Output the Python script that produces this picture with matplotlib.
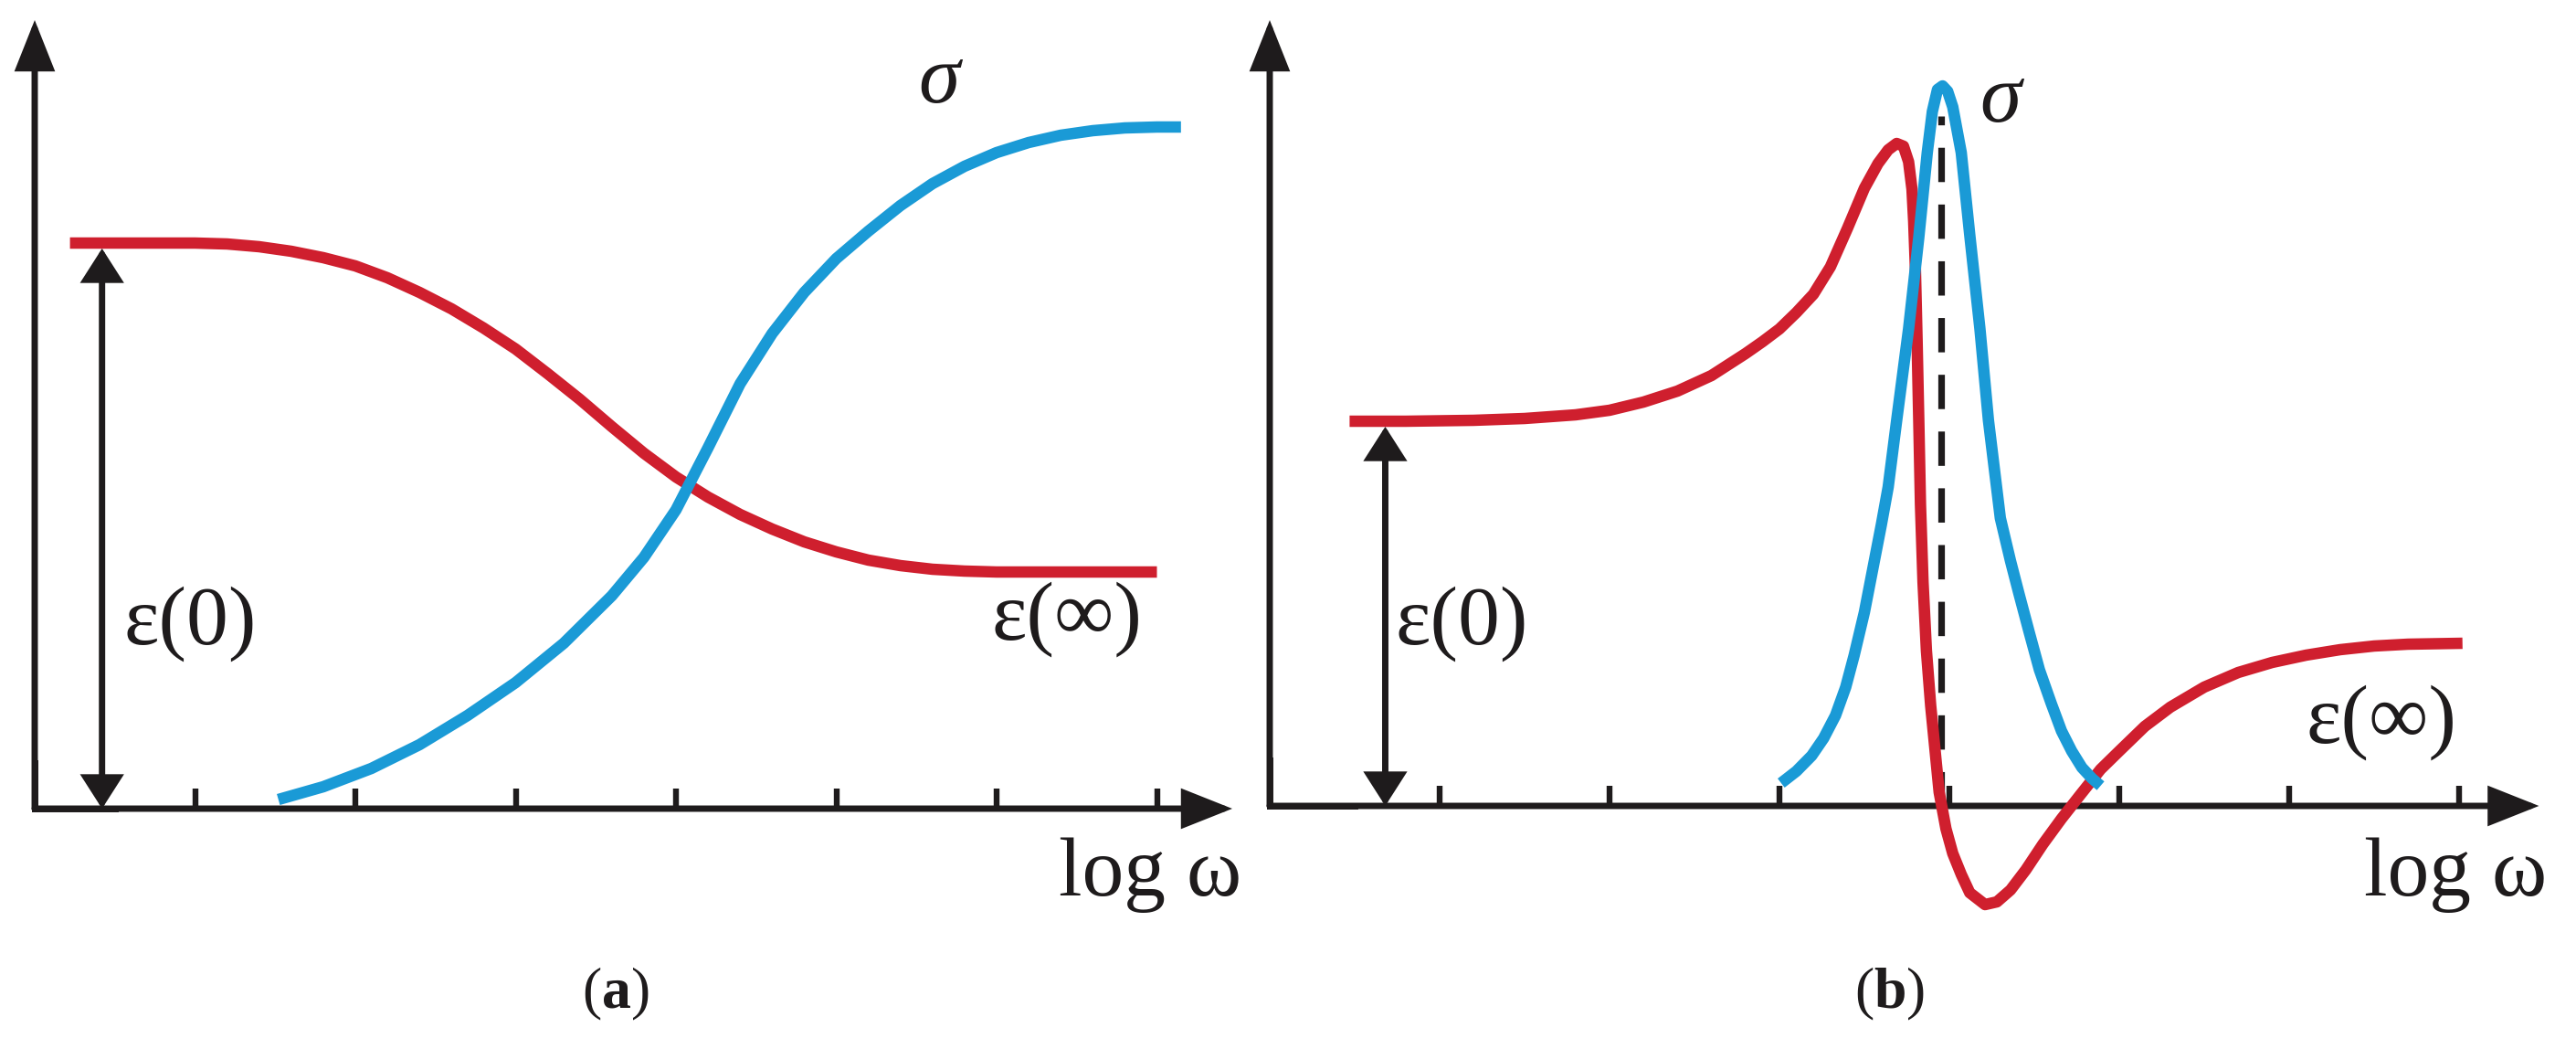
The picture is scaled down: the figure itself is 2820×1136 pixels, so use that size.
import matplotlib
matplotlib.use("Agg")
import matplotlib.pyplot as plt

plt.rcParams['font.family'] = ['Liberation Serif', 'DejaVu Serif']
plt.rcParams['mathtext.fontset'] = 'custom'
plt.rcParams['mathtext.rm'] = 'Liberation Serif'
plt.rcParams['mathtext.bf'] = 'Liberation Serif:bold'

# ---------------- data ----------------
# panel (a): Debye-like relaxation, x in tick units along log(omega)
a_eps_x = [0.22, 0.6, 1.0, 1.2, 1.4, 1.6, 1.8, 2.0, 2.2, 2.4, 2.6, 2.8, 3.0, 3.2, 3.4,
           3.6, 3.8, 4.0, 4.2, 4.4, 4.6, 4.8, 5.0, 5.2, 5.4, 5.6, 5.8, 6.0, 6.4, 7.0]
a_eps_y = [6.19, 6.19, 6.19, 6.18, 6.15, 6.10, 6.03, 5.94, 5.81, 5.65, 5.47, 5.26, 5.03, 4.76, 4.48,
           4.18, 3.89, 3.63, 3.41, 3.22, 3.06, 2.92, 2.81, 2.72, 2.66, 2.62, 2.60, 2.59, 2.59, 2.59]
a_sig_x = [1.52, 1.8, 2.1, 2.4, 2.7, 3.0, 3.3, 3.6, 3.8, 4.0, 4.2, 4.4, 4.6, 4.8, 5.0,
           5.2, 5.4, 5.6, 5.8, 6.0, 6.2, 6.4, 6.6, 6.8, 7.0, 7.15]
a_sig_y = [0.10, 0.24, 0.44, 0.70, 1.02, 1.38, 1.81, 2.33, 2.75, 3.27, 3.95, 4.65, 5.20, 5.65, 6.02,
           6.32, 6.60, 6.84, 7.03, 7.18, 7.29, 7.37, 7.42, 7.45, 7.46, 7.46]

# panel (b): resonance (Lorentz-like)
b_eps_x = [0.47, 0.8, 1.2, 1.5, 1.8, 2.0, 2.2, 2.4, 2.6, 2.8, 2.9, 3.0, 3.1, 3.2, 3.3,
           3.4, 3.5, 3.58, 3.64, 3.69, 3.73, 3.76, 3.78, 3.79, 3.80, 3.81, 3.82, 3.83,
           3.845, 3.865, 3.89, 3.94, 3.98, 4.02, 4.07, 4.12, 4.21, 4.28, 4.36, 4.45, 4.55,
           4.66, 4.77, 4.89, 5.0, 5.15, 5.3, 5.5, 5.7, 5.9, 6.1, 6.3, 6.5, 6.7, 7.02]
b_eps_y = [4.21, 4.21, 4.22, 4.24, 4.28, 4.33, 4.42, 4.54, 4.71, 4.95, 5.08, 5.22, 5.40, 5.60, 5.90,
           6.32, 6.76, 7.03, 7.18, 7.25, 7.22, 7.05, 6.75, 6.40, 5.89, 5.10, 4.22, 3.30,
           2.45, 1.70, 1.10, 0.15, -0.25, -0.52, -0.75, -0.95, -1.08, -1.05, -0.92, -0.70, -0.42,
           -0.14, 0.12, 0.40, 0.60, 0.87, 1.08, 1.30, 1.46, 1.57, 1.65, 1.71, 1.75, 1.77, 1.78]
b_sig_x = [3.01, 3.10, 3.19, 3.26, 3.33, 3.39, 3.44, 3.50, 3.55, 3.60, 3.64, 3.69, 3.76,
           3.82, 3.87, 3.90, 3.93, 3.96, 3.99, 4.02, 4.07, 4.12, 4.18, 4.23, 4.30, 4.36,
           4.41, 4.47, 4.53, 4.60, 4.66, 4.72, 4.78, 4.84, 4.89]
b_sig_y = [0.25, 0.38, 0.55, 0.74, 0.99, 1.30, 1.65, 2.12, 2.60, 3.08, 3.49, 4.22, 5.22,
           6.22, 7.15, 7.60, 7.84, 7.88, 7.82, 7.65, 7.15, 6.25, 5.22, 4.22, 3.15, 2.68,
           2.32, 1.90, 1.49, 1.12, 0.82, 0.60, 0.42, 0.30, 0.22]
b_peak_x = 3.95
b_peak_top = 7.55

tick_positions = [1, 2, 3, 4, 5, 6, 7]
a_eps0_level = 6.19
b_eps0_level = 4.21

RED = '#cf1f2e'
BLUE = '#1a9ad6'
INK = '#1e1b1c'

W, H = 2820, 1136
fig = plt.figure(figsize=(W / 100, H / 100), dpi=100)
fig.patch.set_facecolor('white')


def make_axes(left_px, width_px, x0_px, unit_px, y0_px):
    ax = fig.add_axes([left_px / W, 0, width_px / W, 1])
    ax.set_xlim((left_px - x0_px) / unit_px, (left_px + width_px - x0_px) / unit_px)
    ax.set_ylim((y0_px - H) / 100.0, y0_px / 100.0)
    ax.axis('off')
    ax.patch.set_alpha(0)
    return ax


def draw_frame(ax, xtip, ytip):
    lw = 5.0
    ax.plot([0, 0.5], [0, 0], color=INK, lw=lw, solid_capstyle='projecting', zorder=3)
    ax.plot([0, 0], [0, 0.5], color=INK, lw=lw, solid_capstyle='projecting', zorder=3)
    style = "-|>,head_length=0.78,head_width=0.31"
    for tip in [(xtip, 0), (0, ytip)]:
        ax.annotate('', xy=tip, xytext=(0, 0),
                    arrowprops=dict(arrowstyle=style, color=INK, lw=lw, shrinkA=0, shrinkB=0,
                                    mutation_scale=40, joinstyle='miter'), zorder=3)
    ax.vlines(tick_positions, 0, 0.22, color=INK, lw=4.6, zorder=3)


def double_arrow(ax, x, top):
    ax.annotate('', xy=(x, top), xytext=(x, 0.0),
                arrowprops=dict(arrowstyle="<|-|>,head_length=0.5,head_width=0.32",
                                color=INK, lw=5.0, shrinkA=0, shrinkB=0,
                                mutation_scale=40, joinstyle='miter'), zorder=4)


FS = 66
CW = 9.0
# ---------------- panel (a) ----------------
axa = make_axes(0, 1370, 38, 175.5, 885)
draw_frame(axa, 7.47, 8.63)
axa.plot(a_eps_x, a_eps_y, color=RED, lw=CW, solid_capstyle='butt', solid_joinstyle='round', zorder=5)
axa.plot(a_sig_x, a_sig_y, color=BLUE, lw=CW, solid_capstyle='butt', solid_joinstyle='round', zorder=6)
double_arrow(axa, 0.42, a_eps0_level - 0.06)
axa.text(0.97, 2.02, 'ε(0)', fontsize=FS, ha='center', va='center', color=INK)
axa.text(5.64, 7.95, 'σ', fontsize=FS, ha='center', va='center', color=INK, style='italic')
axa.text(6.44, 2.07, 'ε(∞)', fontsize=FS, ha='center', va='center', color=INK)
axa.text(7.53, -0.95, 'log ω', fontsize=FS, ha='right', va='baseline', color=INK)
axa.text(3.62, -2.03, r'($\mathbf{a}$)', fontsize=46, ha='center', va='center', color=INK)

# ---------------- panel (b) ----------------
axb = make_axes(1370, 1450, 1390, 186.0, 882)
draw_frame(axb, 7.47, 8.60)
axb.plot([b_peak_x, b_peak_x], [0, b_peak_top], color=INK, lw=5.2,
         dashes=(5.2, 3.4), zorder=4)
axb.plot(b_eps_x, b_eps_y, color=RED, lw=CW, solid_capstyle='butt', solid_joinstyle='round', zorder=5)
axb.plot(b_sig_x, b_sig_y, color=BLUE, lw=CW, solid_capstyle='butt', solid_joinstyle='round', zorder=6)
double_arrow(axb, 0.68, b_eps0_level - 0.06)
axb.text(1.13, 1.99, 'ε(0)', fontsize=FS, ha='center', va='center', color=INK)
axb.text(4.30, 7.71, 'σ', fontsize=FS, ha='center', va='center', color=INK, style='italic')
axb.text(6.54, 0.91, 'ε(∞)', fontsize=FS, ha='center', va='center', color=INK)
axb.text(7.52, -0.98, 'log ω', fontsize=FS, ha='right', va='baseline', color=INK)
axb.text(3.65, -2.06, r'($\mathbf{b}$)', fontsize=46, ha='center', va='center', color=INK)

fig.savefig('out.png', dpi=100, facecolor='white')
